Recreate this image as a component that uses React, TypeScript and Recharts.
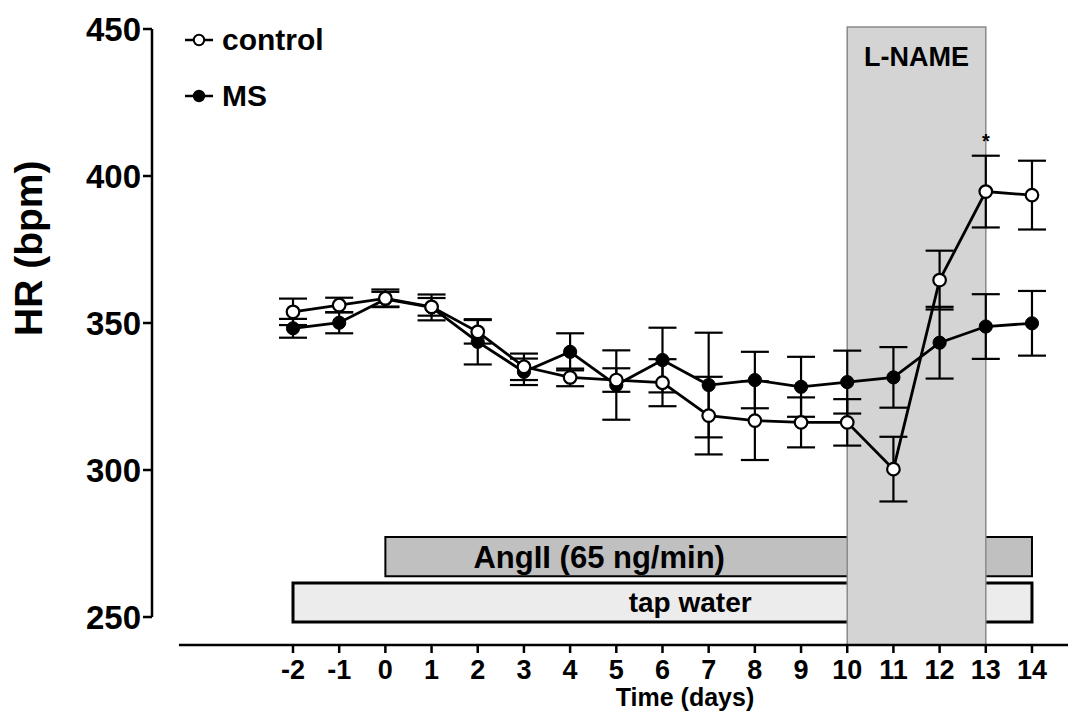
import React from 'react';
import {
  ComposedChart,
  Line,
  XAxis,
  YAxis,
  ErrorBar,
  ReferenceArea,
  ReferenceLine,
  ReferenceDot,
  Legend,
} from 'recharts';

// ---- data ----
const days = [-2, -1, 0, 1, 2, 3, 4, 5, 6, 7, 8, 9, 10, 11, 12, 13, 14];
const controlHR = [353.8, 356.1, 358.4, 355.5, 347.0, 335.1, 331.5, 330.6, 329.7, 318.5, 316.8, 316.2, 316.2, 300.3, 364.6, 394.7, 393.5];
const controlSEM = [4.5, 2.5, 3.0, 3.0, 4.0, 4.5, 3.0, 4.0, 8.0, 13.2, 13.4, 8.5, 7.9, 11.0, 10.0, 12.2, 11.7];
const msHR = [348.2, 350.1, 358.1, 355.3, 343.6, 333.4, 340.2, 328.9, 337.4, 328.9, 330.6, 328.3, 329.9, 331.5, 343.3, 348.8, 349.9];
const msSEM = [3.2, 3.6, 2.5, 4.4, 7.7, 4.5, 6.3, 11.8, 11.0, 17.8, 9.6, 10.2, 10.7, 10.3, 12.2, 11.0, 11.0];

const xTicks = [-2, -1, 0, 1, 2, 3, 4, 5, 6, 7, 8, 9, 10, 11, 12, 13, 14];
const yTicks = [250, 300, 350, 400, 450];

// treatment periods (days)
const angIIPeriod = [0, 14];
const tapWaterPeriod = [-2, 14];
const lNamePeriod = [10, 13];
const significantDays = [13];

const data = days.map((d, i) => ({
  day: d,
  control: controlHR[i],
  controlErr: controlSEM[i],
  ms: msHR[i],
  msErr: msSEM[i],
}));

// ---- layout ----
const FONT = '"Liberation Sans", Arial, Helvetica, sans-serif';
const X_DOMAIN: [number, number] = [-5.053, 14.78];
const Y_DOMAIN: [number, number] = [240.48, 450.68];

const LegendContent = () => (
  <div style={{ fontFamily: FONT, fontWeight: 'bold', fontSize: 30, color: '#000' }}>
    {[
      { name: 'control', open: true },
      { name: 'MS', open: false },
    ].map((it) => (
      <div key={it.name} style={{ display: 'flex', alignItems: 'center', height: 56 }}>
        <svg width={30} height={16} style={{ display: 'block' }}>
          <line x1={1} x2={29} y1={8} y2={8} stroke="#000" strokeWidth={2.5} />
          <circle cx={15} cy={8} r={5.2} fill={it.open ? '#fff' : '#000'} stroke="#000" strokeWidth={2} />
        </svg>
        <span style={{ marginLeft: 8, lineHeight: 1 }}>{it.name}</span>
      </div>
    ))}
  </div>
);

const OpenDot = (props: any) => {
  const { cx, cy } = props;
  if (cx == null || cy == null) return null;
  return <circle cx={cx} cy={cy} r={6.3} fill="#fff" stroke="#000" strokeWidth={2.2} />;
};
const FilledDot = (props: any) => {
  const { cx, cy } = props;
  if (cx == null || cy == null) return null;
  return <circle cx={cx} cy={cy} r={6.6} fill="#000" stroke="#000" strokeWidth={1} />;
};

export default function App() {
  return (
    <div style={{ position: 'absolute', left: 0, top: 0, background: '#fff' }}>
      <ComposedChart
        width={1068}
        height={711}
        data={data}
        margin={{ top: 27, right: 0, bottom: 0, left: 0 }}
      >
        <XAxis
          dataKey="day"
          type="number"
          domain={X_DOMAIN}
          ticks={xTicks}
          allowDataOverflow
          axisLine={false}
          tickLine={{ stroke: '#000', strokeWidth: 2.5 }}
          tickSize={8}
          tickMargin={7}
          height={66}
          interval={0}
          tick={{ fontFamily: FONT, fontWeight: 'bold', fontSize: 27, fill: '#000' }}
          label={{
            value: 'Time (days)',
            position: 'insideBottom',
            offset: 5,
            dx: 75,
            style: { fontFamily: FONT, fontWeight: 'bold', fontSize: 25, fill: '#000' },
          }}
        />
        <YAxis
          type="number"
          domain={Y_DOMAIN}
          ticks={yTicks}
          allowDataOverflow
          width={152}
          axisLine={false}
          tickLine={{ stroke: '#000', strokeWidth: 2.5 }}
          tickSize={9}
          tickMargin={2}
          interval={0}
          tick={{ fontFamily: FONT, fontWeight: 'bold', fontSize: 33, fill: '#000' }}
          label={{
            value: 'HR (bpm)',
            angle: -90,
            position: 'insideLeft',
            offset: 28,
            style: { fontFamily: FONT, fontWeight: 'bold', fontSize: 39, fill: '#000' },
          }}
        />

        {/* treatment bars */}
        <ReferenceArea
          x1={tapWaterPeriod[0]}
          x2={tapWaterPeriod[1]}
          y1={248.3}
          y2={261.6}
          fill="#ececec"
          fillOpacity={1}
          stroke="#000"
          strokeWidth={3}
          ifOverflow="visible"
        />
        <ReferenceArea
          x1={angIIPeriod[0]}
          x2={angIIPeriod[1]}
          y1={263.9}
          y2={277.2}
          fill="#c0c0c0"
          fillOpacity={1}
          stroke="#000"
          strokeWidth={2}
          ifOverflow="visible"
        />
        <ReferenceDot
          x={4.63}
          y={270.55}
          r={0}
          fill="none"
          stroke="none"
          ifOverflow="visible"
          label={{ value: 'AngII (65 ng/min)', position: 'center', style: { fontFamily: FONT, fontWeight: 'bold', fontSize: 31, fill: '#000' } }}
        />
        <ReferenceDot
          x={6.6}
          y={254.95}
          r={0}
          fill="none"
          stroke="none"
          ifOverflow="visible"
          label={{ value: 'tap water', position: 'center', style: { fontFamily: FONT, fontWeight: 'bold', fontSize: 28, fill: '#000' } }}
        />

        {/* L-NAME period */}
        <ReferenceArea
          x1={lNamePeriod[0]}
          x2={lNamePeriod[1]}
          y1={Y_DOMAIN[0]}
          y2={Y_DOMAIN[1]}
          fill="#d4d4d4"
          fillOpacity={1}
          stroke="#8a8a8a"
          strokeWidth={1.5}
          ifOverflow="visible"
          label={{ value: 'L-NAME', position: 'insideTop', offset: 20, style: { fontFamily: FONT, fontWeight: 'bold', fontSize: 27, fill: '#000' } }}
        />

        {/* axis lines */}
        <ReferenceLine
          segment={[{ x: X_DOMAIN[0], y: 250 }, { x: X_DOMAIN[0], y: 450 }]}
          stroke="#000"
          strokeWidth={2.5}
          ifOverflow="visible"
        />
        <ReferenceLine
          segment={[{ x: -4.47, y: Y_DOMAIN[0] }, { x: X_DOMAIN[1], y: Y_DOMAIN[0] }]}
          stroke="#000"
          strokeWidth={2.5}
          ifOverflow="visible"
        />

        {significantDays.map((d) => (
          <ReferenceDot
            key={d}
            x={d}
            y={411.9}
            r={0}
            fill="none"
            stroke="none"
            ifOverflow="visible"
            label={{ value: '*', position: 'center', style: { fontFamily: FONT, fontWeight: 'bold', fontSize: 20, fill: '#000' } }}
          />
        ))}

        <Line
          dataKey="ms"
          type="linear"
          stroke="#000"
          strokeWidth={2.8}
          dot={<FilledDot />}
          activeDot={false}
          isAnimationActive={false}
        >
          <ErrorBar dataKey="msErr" direction="y" width={14} stroke="#000" strokeWidth={2.2} isAnimationActive={false} />
        </Line>
        <Line
          dataKey="control"
          type="linear"
          stroke="#000"
          strokeWidth={2.8}
          dot={<OpenDot />}
          activeDot={false}
          isAnimationActive={false}
        >
          <ErrorBar dataKey="controlErr" direction="y" width={14} stroke="#000" strokeWidth={2.2} isAnimationActive={false} />
        </Line>

        <Legend
          layout="vertical"
          verticalAlign="middle"
          align="center"
          content={<LegendContent />}
          wrapperStyle={{ left: 184, top: 12, width: 'auto', height: 'auto' }}
        />
      </ComposedChart>
    </div>
  );
}
